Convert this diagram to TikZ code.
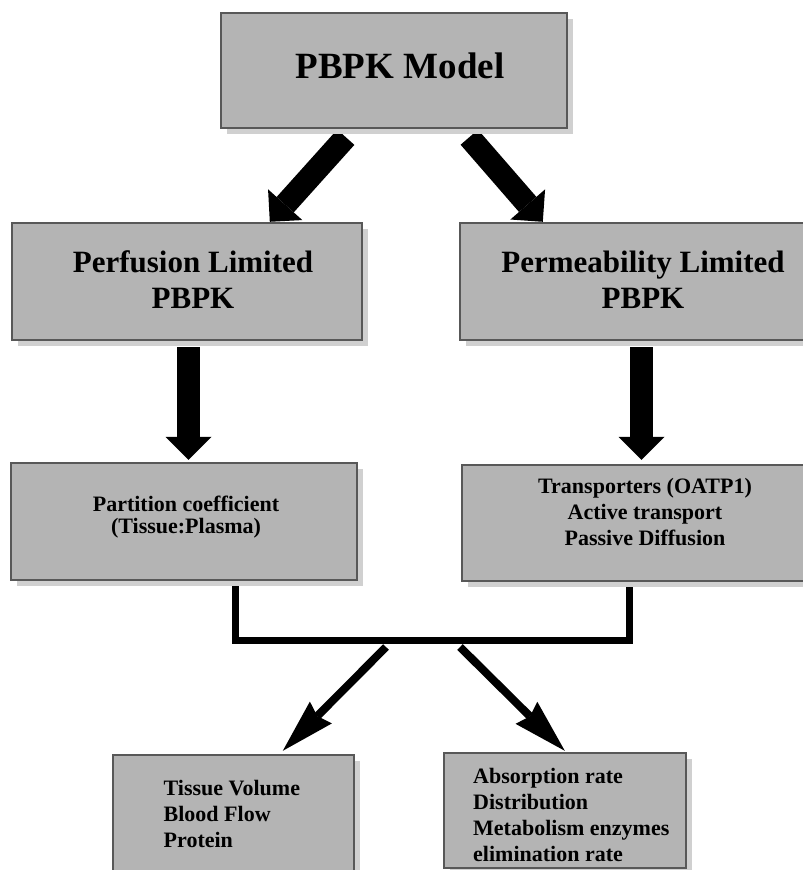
\documentclass[tikz,border=0pt]{standalone}
\usepackage{fontspec}
\setmainfont{Liberation Serif}
\usetikzlibrary{arrows.meta,calc,shadows}

\definecolor{boxfill}{RGB}{180,180,180}
\definecolor{boxline}{RGB}{88,88,88}
\definecolor{boxshade}{RGB}{208,208,208}

\tikzset{
  panel/.style={draw=boxline, line width=1.5pt, fill=boxfill, inner sep=0pt,
    drop shadow={shadow xshift=6pt, shadow yshift=-6pt, fill=boxshade, opacity=1}},
  titletext/.style={inner sep=0pt, font=\bfseries\fontsize{37}{44}\selectfont},
  headtext/.style={inner sep=0pt, align=center, font=\bfseries\fontsize{31}{36}\selectfont},
  bodytext/.style={inner sep=0pt, font=\bfseries\fontsize{22}{26}\selectfont},
  tighttext/.style={inner sep=0pt, font=\bfseries\fontsize{22}{22}\selectfont},
  bigarrow/.style={line width=23pt, line cap=butt,
    -{Triangle[length=23pt, width=46pt, line width=0pt]}},
  thinarrow/.style={line width=8pt, line cap=butt,
    -{Stealth[length=54pt, width=31pt, inset=5pt, line width=0pt]}},
  bracket/.style={line width=7pt, line join=miter, line cap=butt},
}

\begin{document}
\begin{tikzpicture}[x=1pt, y=-1pt]
  \useasboundingbox (0,0) rectangle (803,870);
  \fill[white] (0,0) rectangle (803,870);

  % box centres
  \path
    (394,70.5)  coordinate (cModel)
    (187,281.5) coordinate (cPerf)
    (643,281.5) coordinate (cPerm)
    (184,521.5) coordinate (cPart)
    (645,523)   coordinate (cTrans)
    (233.5,815) coordinate (cTissue)
    (565,810.5) coordinate (cAbs);

  % junction of the two lower branches and the starts of the fan-out arrows
  \coordinate (jL) at (235,640);
  \coordinate (jR) at (629,640);
  \coordinate (fanL) at (386,647);
  \coordinate (fanR) at (460,647);

  % nodes are placed first (invisible) so connectors can refer to them
  \path
    node[minimum width=346pt, minimum height=115pt, inner sep=0pt] (model)  at (cModel)  {}
    node[minimum width=350pt, minimum height=117pt, inner sep=0pt] (perf)   at (cPerf)   {}
    node[minimum width=366pt, minimum height=117pt, inner sep=0pt] (perm)   at (cPerm)   {}
    node[minimum width=346pt, minimum height=117pt, inner sep=0pt] (part)   at (cPart)   {}
    node[minimum width=366pt, minimum height=116pt, inner sep=0pt] (trans)  at (cTrans)  {}
    node[minimum width=241pt, minimum height=120pt, inner sep=0pt] (tissue) at (cTissue) {}
    node[minimum width=242pt, minimum height=115pt, inner sep=0pt] (abs)    at (cAbs)    {};

  % connectors
  \draw[bigarrow] ($(model.south west)+(125,9)$) -- ($(perf.north west)+(258,-1)$);
  \draw[bigarrow] ($(model.south west)+(248.5,9)$) -- ($(perm.north west)+(83,-1)$);
  \draw[bigarrow] ($(perf.south)+(1.5,7)$) -- ($(part.north)+(4.5,-3)$);
  \draw[bigarrow] ($(perm.south)+(-1.5,7)$) -- ($(trans.north)+(-3.5,-5)$);
  \draw[bracket] (part.south -| jL) -- (jL) -- (jR) -- (trans.south -| jR);
  \draw[thinarrow] (fanL) -- ($(tissue.north west)+(170,-4)$);
  \draw[thinarrow] (fanR) -- ($(abs.north west)+(121,-2)$);

  % shaded boxes
  \foreach \b in {model,perf,perm,part,trans,tissue,abs}{
    \path[panel] (\b.north west) rectangle (\b.south east);
  }

  % texts (base anchor of a multi-line node is its last line)
  \node[titletext, anchor=base] (tModel) at (400,78) {PBPK Model};
  \node[headtext, anchor=base] (tPerf) at (193,308) {Perfusion Limited\\PBPK};
  \node[headtext, anchor=base] (tPerm) at (643,308) {Permeability Limited\\PBPK};
  \node[tighttext, align=center, anchor=base] (tPart) at (186,533.5)
    {Partition coefficient\\(Tissue:Plasma)};
  \node[bodytext, align=center, anchor=base] (tTrans) at (645,545)
    {Transporters (OATP1)\\Active transport\\Passive Diffusion};
  \node[bodytext, align=left, anchor=base west] (tTissue) at (163.5,847)
    {Tissue Volume\\Blood Flow\\Protein};
  \node[bodytext, align=left, anchor=base west] (tAbs) at (473,861)
    {Absorption rate\\Distribution\\Metabolism enzymes\\elimination rate};
\end{tikzpicture}
\end{document}
